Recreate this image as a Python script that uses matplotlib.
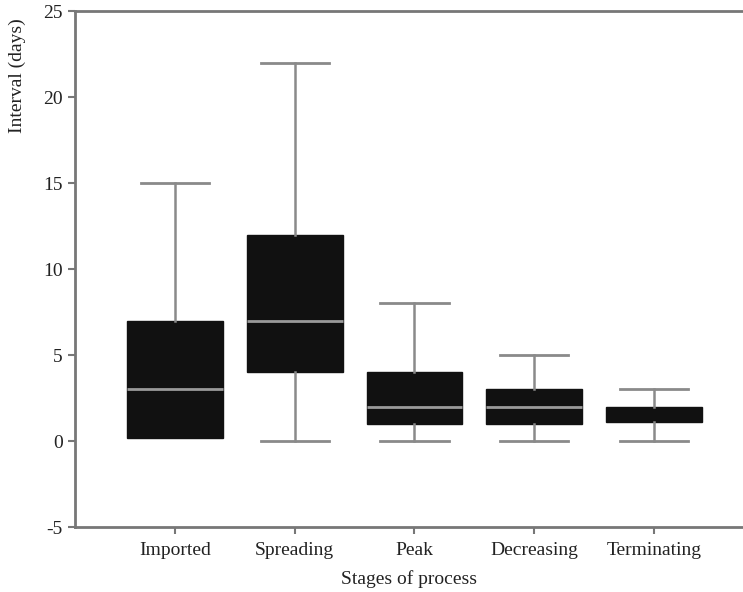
import matplotlib
matplotlib.use("Agg")
import matplotlib.pyplot as plt

categories = ["Imported", "Spreading", "Peak", "Decreasing", "Terminating"]
whislo = [0.2, 0, 0, 0, 0]
q1 = [0.2, 4, 1, 1, 1.1]
med = [3, 7, 2, 2, 1.5]
q3 = [7, 12, 4, 3, 2]
whishi = [15, 22, 8, 5, 3]
yticks = [-5, 0, 5, 10, 15, 20, 25]

plt.rcParams['font.family'] = ['Liberation Serif', 'DejaVu Serif']
plt.rcParams['axes.unicode_minus'] = False

fig = plt.figure(figsize=(7.43, 5.92), dpi=100)
ax = fig.add_axes([75/743, 1-527/592, 668/743, 516/592])

stats = []
for i, c in enumerate(categories):
    stats.append(dict(label=c, whislo=whislo[i], q1=q1[i], med=med[i], q3=q3[i], whishi=whishi[i], fliers=[]))

positions = list(range(1, len(categories)+1))
gray = '#8a8a8a'
box_color = '#111111'
res = ax.bxp(stats, positions=positions, widths=0.8, patch_artist=True, showfliers=False,
             boxprops=dict(facecolor=box_color, edgecolor=box_color, linewidth=1),
             medianprops=dict(color='#9a9a9a', linewidth=2),
             whiskerprops=dict(color=gray, linewidth=1.8),
             capprops=dict(color=gray, linewidth=2),
             capwidths=0.57)

# whiskers/caps of zero length are not drawn in the reference
for i in range(len(categories)):
    if whislo[i] == q1[i]:
        res['caps'][2*i].set_visible(False)
        res['whiskers'][2*i].set_visible(False)
# short box: the median line is not visible in the reference
res['medians'][4].set_color(box_color)

ax.set_xlim(1-100/119.7, 1-100/119.7 + 668/119.7)
ax.set_ylim(-5, 25)
ax.set_yticks(yticks)
ax.set_xticks(positions)
ax.set_xticklabels(categories)

ax.spines['right'].set_visible(False)
for s in ['left', 'bottom', 'top']:
    ax.spines[s].set_color('#777777')
    ax.spines[s].set_linewidth(2)
ax.tick_params(axis='both', colors='#777777', width=1.5, length=5, labelsize=14, labelcolor='#222222')
ax.tick_params(axis='x', pad=6)
ax.tick_params(axis='y', pad=4)

ax.set_xlabel("Stages of process", fontsize=14, color='#222222', labelpad=8)
ax.set_ylabel("Interval (days)", fontsize=14, color='#222222')
ax.yaxis.set_label_coords(-0.073, 0.875)

fig.savefig("out.png", dpi=100)
